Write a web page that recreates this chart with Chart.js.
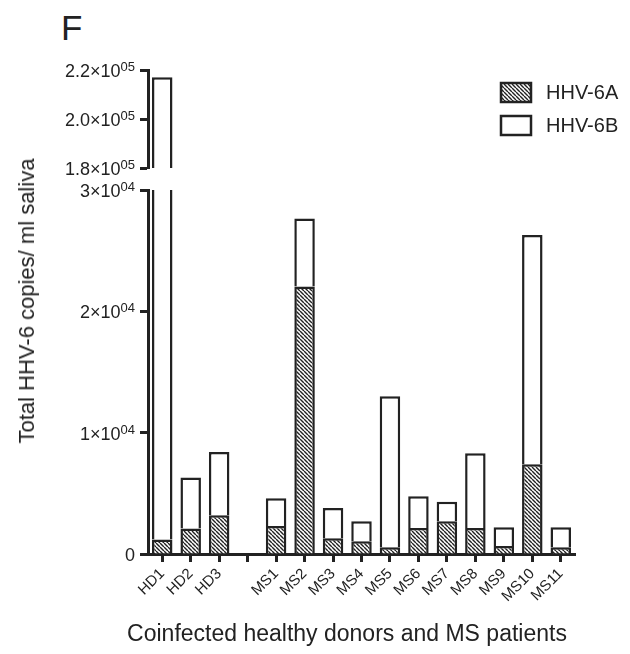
<!DOCTYPE html>
<html>
<head>
<meta charset="utf-8">
<script src="https://cdn.jsdelivr.net/npm/chart.js@4.4.0/dist/chart.umd.min.js"></script>
<style>
  body { margin: 0; background: #fff; }
  #wrap { position: relative; width: 630px; height: 654px; font-family: "Liberation Sans", Arial, sans-serif; color: #222; }
  canvas { position: absolute; left: 0; }
  #letra { position: absolute; left: 61px; top: 10px; font-size: 35px; line-height: 1; color: #222; }
  #ytitulo { position: absolute; left: 27px; top: 301px; transform: translate(-50%, -50%) rotate(-90deg); white-space: nowrap; font-size: 22px; }
  #xtitulo { position: absolute; left: 347px; top: 633px; transform: translate(-50%, -50%); white-space: nowrap; font-size: 23px; }
</style>
</head>
<body>
<div id="wrap">
  <div id="letra">F</div>
  <canvas id="arriba" width="630" height="180" style="top:0"></canvas>
  <canvas id="abajo" width="630" height="479" style="top:175px"></canvas>
  <div id="ytitulo">Total HHV-6 copies/ ml saliva</div>
  <div id="xtitulo">Coinfected healthy donors and MS patients</div>
</div>
<script>
// datos
const categorias = ["HD1", "HD2", "HD3", "", "MS1", "MS2", "MS3", "MS4", "MS5", "MS6", "MS7", "MS8", "MS9", "MS10", "MS11"];
const hhv6A = [1200, 2100, 3200, null, 2300, 22050, 1300, 1050, 550, 2150, 2700, 2150, 650, 7400, 550];
const hhv6B = [215800, 4200, 5200, null, 2300, 5600, 2500, 1650, 12450, 2600, 1600, 6150, 1550, 18900, 1650];

// eje partido: tramo de arriba y tramo de abajo
const valoresArriba = [180000, 200000, 220000];
const etiquetasArriba = ["1.8×10", "2.0×10", "2.2×10"];
const exponentesArriba = ["05", "05", "05"];
const valoresAbajo = [0, 10000, 20000, 30000];
const etiquetasAbajo = ["0", "1×10", "2×10", "3×10"];
const exponentesAbajo = ["", "04", "04", "04"];

const fuente = '"Liberation Sans", Arial, sans-serif';
Chart.defaults.font.family = fuente;
Chart.defaults.color = '#222';

// relleno rayado para HHV-6A
function rayado() {
  const c = document.createElement('canvas');
  c.width = 4;
  c.height = 4;
  const g = c.getContext('2d');
  g.fillStyle = '#fff';
  g.fillRect(0, 0, 4, 4);
  g.strokeStyle = '#222';
  g.lineWidth = 1.4;
  g.beginPath();
  for (const k of [-1, 0, 1]) {
    g.moveTo(k * 4, 0);
    g.lineTo(k * 4 + 4, 4);
  }
  g.stroke();
  return g.createPattern(c, 'repeat');
}
const patron = rayado();

function series() {
  return [
    { label: 'HHV-6A', data: hhv6A, backgroundColor: patron, borderColor: '#222', borderWidth: 2.5 },
    { label: 'HHV-6B', data: hhv6B, backgroundColor: '#fff', borderColor: '#222', borderWidth: 2.5 },
  ];
}

// etiquetas del eje y con exponente en superindice
function etiquetasY(valores, etiquetas, exponentes) {
  return {
    id: 'etiquetasY',
    afterDraw(chart) {
      const ctx = chart.ctx;
      const y = chart.scales.y;
      const derecha = y.right - 8 - 5;
      ctx.save();
      ctx.fillStyle = '#222';
      ctx.textAlign = 'right';
      valores.forEach((v, i) => {
        const py = y.getPixelForValue(v) + 2;
        ctx.font = '13px ' + fuente;
        const ancho = ctx.measureText(exponentes[i]).width;
        ctx.textBaseline = 'alphabetic';
        ctx.fillText(exponentes[i], derecha, py - 1);
        ctx.font = '18px ' + fuente;
        ctx.textBaseline = 'middle';
        ctx.fillText(etiquetas[i], derecha - ancho, py);
      });
      ctx.restore();
    },
  };
}

function opciones(min, max, valores, conX, padding) {
  return {
    responsive: false,
    animation: false,
    layout: { padding: padding },
    plugins: { legend: { display: false }, tooltip: { enabled: false } },
    datasets: { bar: { barPercentage: 0.72, categoryPercentage: 1 } },
    scales: {
      x: {
        stacked: true,
        display: conX,
        offset: true,
        grid: { offset: false, drawOnChartArea: false, tickLength: 8, tickWidth: 3, color: '#222' },
        border: { width: 3, color: '#222' },
        ticks: { font: { size: 15 }, minRotation: 45, maxRotation: 45, autoSkip: false, padding: 3 },
        afterFit: (s) => { if (conX) s.height = 100; },
      },
      y: {
        stacked: true,
        min: min,
        max: max,
        afterBuildTicks: (s) => { s.ticks = valores.map((v) => ({ value: v })); },
        grid: { drawOnChartArea: false, tickLength: 8, tickWidth: 3, color: '#222' },
        border: { width: 3, color: '#222' },
        ticks: { display: false },
        afterFit: (s) => { s.width = 148; },
      },
    },
  };
}

// leyenda dibujada en el tramo de arriba
const leyenda = {
  id: 'leyenda',
  afterDraw(chart) {
    const ctx = chart.ctx;
    chart.data.datasets.forEach((ds, i) => {
      const y = 83 + i * 33;
      ctx.save();
      ctx.fillStyle = ds.backgroundColor;
      ctx.fillRect(501, y, 30, 19);
      ctx.lineWidth = 2.5;
      ctx.strokeStyle = '#222';
      ctx.strokeRect(501, y, 30, 19);
      ctx.fillStyle = '#222';
      ctx.font = '20px ' + fuente;
      ctx.textBaseline = 'middle';
      ctx.fillText(ds.label, 546, y + 10);
      ctx.restore();
    });
  },
};

new Chart(document.getElementById('arriba'), {
  type: 'bar',
  data: { labels: categorias, datasets: series() },
  options: opciones(180000, 220000, valoresArriba, false, { top: 70, right: 55, bottom: 12, left: 0 }),
  plugins: [leyenda, etiquetasY(valoresArriba, etiquetasArriba, exponentesArriba)],
});

new Chart(document.getElementById('abajo'), {
  type: 'bar',
  data: { labels: categorias, datasets: series() },
  options: opciones(0, 30000, valoresAbajo, true, { top: 15, right: 55, bottom: 0, left: 0 }),
  plugins: [etiquetasY(valoresAbajo, etiquetasAbajo, exponentesAbajo)],
});
</script>
</body>
</html>
